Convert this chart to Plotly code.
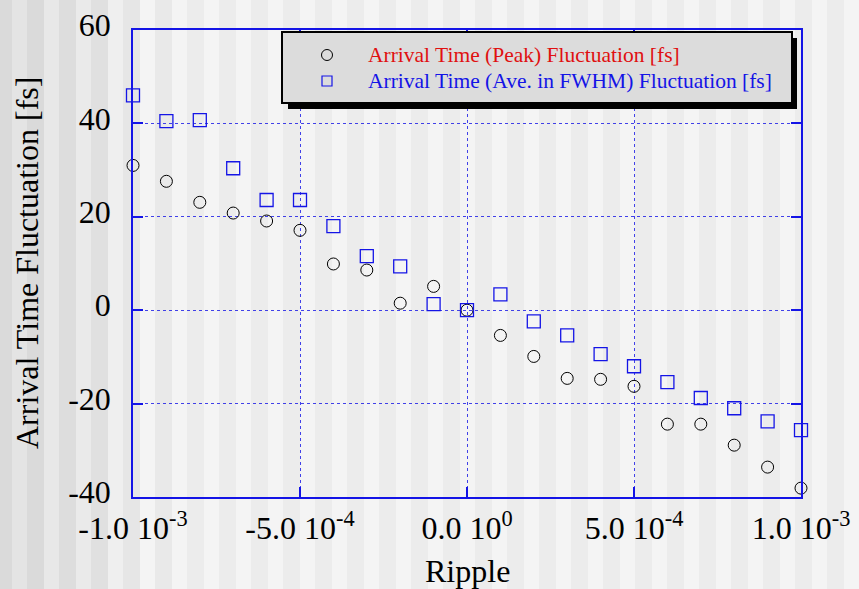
import plotly.graph_objects as go

# ---- data ----
ripple = [-1.0e-3, -9e-4, -8e-4, -7e-4, -6e-4, -5e-4, -4e-4, -3e-4, -2e-4, -1e-4, 0.0,
          1e-4, 2e-4, 3e-4, 4e-4, 5e-4, 6e-4, 7e-4, 8e-4, 9e-4, 1.0e-3]
peak_fluct = [31.0, 27.6, 23.1, 20.8, 19.1, 17.1, 9.9, 8.6, 1.5, 5.1, 0.0,
              -5.4, -9.9, -14.6, -14.8, -16.3, -24.4, -24.4, -28.9, -33.6, -38.1]
fwhm_fluct = [46.0, 40.5, 40.7, 30.4, 23.6, 23.6, 18.0, 11.6, 9.4, 1.3, 0.0,
              3.4, -2.4, -5.4, -9.4, -12.0, -15.4, -18.8, -21.0, -23.8, -25.7]
x_tickvals = [-1.0e-3, -5.0e-4, 0.0, 5.0e-4, 1.0e-3]
x_ticktext = ["-1.0 10<sup>-3</sup>", "-5.0 10<sup>-4</sup>", "0.0 10<sup>0</sup>",
              "5.0 10<sup>-4</sup>", "1.0 10<sup>-3</sup>"]
y_tickvals = [-40, -20, 0, 20, 40, 60]
y_ticktext = ["-40", "-20", "0", "20", "40", "60"]
name_peak = "Arrival Time (Peak) Fluctuation [fs]"
name_fwhm = "Arrival Time (Ave. in FWHM) Fluctuation [fs]"

# ---- geometry ----
W, H = 859, 589
L, R, T, B = 133, 58, 30, 92
PW, PH = W - L - R, H - T - B
FONT = "Liberation Serif, Times New Roman, serif"
BLUE = "#1414e6"


def px(x):
    return (x - L) / PW


def py(y):
    return (H - B - y) / PH


shapes = []
# striped background
for k in range(-1, 28):
    a0 = 12 + 32 * k
    b0 = a0 + 15
    b1 = a0 + 32
    if k <= 0:
        ca = "#e4e4e4"
    elif k == 1:
        ca = "#e8e8e8"
    elif k == 2:
        ca = "#eaeaea"
    elif k == 3:
        ca = "#efefef"
    else:
        ca = "#f4f4f4"
    if k <= 0:
        cb = "#dadada"
    elif k == 1:
        cb = "#dddddd"
    elif k == 2:
        cb = "#e0e0e0"
    elif k == 3:
        cb = "#e6e6e6"
    elif k == 4:
        cb = "#e9e9e9"
    else:
        cb = "#ececec"
    shapes.append(dict(type="rect", xref="paper", yref="paper", layer="below",
                       x0=px(a0), x1=px(b0), y0=py(H), y1=py(0),
                       fillcolor=ca, line=dict(width=0)))
    shapes.append(dict(type="rect", xref="paper", yref="paper", layer="below",
                       x0=px(b0), x1=px(b1), y0=py(H), y1=py(0),
                       fillcolor=cb, line=dict(width=0)))

# legend box with shadow
shapes.append(dict(type="rect", xref="paper", yref="paper", layer="above",
                   x0=px(288), x1=px(797), y0=py(109), y1=py(38),
                   fillcolor="black", line=dict(width=0)))
shapes.append(dict(type="rect", xref="paper", yref="paper", layer="above",
                   x0=px(282), x1=px(792), y0=py(103), y1=py(32),
                   fillcolor="#dcdcdc", line=dict(color="black", width=2)))
# legend symbols
shapes.append(dict(type="circle", xref="paper", yref="paper", layer="above",
                   x0=px(321.5), x1=px(332.5), y0=py(60.5), y1=py(49.5),
                   fillcolor="rgba(0,0,0,0)", line=dict(color="black", width=1)))
shapes.append(dict(type="rect", xref="paper", yref="paper", layer="above",
                   x0=px(322), x1=px(332), y0=py(86), y1=py(76),
                   fillcolor="rgba(0,0,0,0)", line=dict(color=BLUE, width=1.2)))

annotations = [
    dict(text=name_peak, xref="paper", yref="paper", x=px(366), y=py(55),
         xanchor="left", yanchor="middle", showarrow=False,
         font=dict(family=FONT, size=21.5, color="#e01010")),
    dict(text=name_fwhm, xref="paper", yref="paper", x=px(366), y=py(81),
         xanchor="left", yanchor="middle", showarrow=False,
         font=dict(family=FONT, size=21.5, color=BLUE)),
    dict(text="Ripple", xref="paper", yref="paper", x=px(467), y=py(571),
         xanchor="center", yanchor="middle", showarrow=False,
         font=dict(family=FONT, size=32, color="black")),
    dict(text="Arrival Time Fluctuation [fs]", xref="paper", yref="paper",
         x=px(27), y=py(263), xanchor="center", yanchor="middle", textangle=-90,
         showarrow=False, font=dict(family=FONT, size=32, color="black")),
]

fig = go.Figure()
fig.add_trace(go.Scatter(x=ripple, y=peak_fluct, mode="markers", name=name_peak,
                         cliponaxis=False,
                         marker=dict(symbol="circle-open", size=12, color="black",
                                     line=dict(width=1, color="black"))))
fig.add_trace(go.Scatter(x=ripple, y=fwhm_fluct, mode="markers", name=name_fwhm,
                         cliponaxis=False,
                         marker=dict(symbol="square-open", size=13, color=BLUE,
                                     line=dict(width=1.3, color=BLUE))))

axis_common = dict(showline=True, mirror="ticks", linecolor=BLUE, linewidth=1.5,
                   ticks="inside", ticklen=10, tickcolor=BLUE, tickwidth=1.5,
                   showgrid=True, gridcolor="rgba(20,20,230,0.8)", griddash="dot",
                   gridwidth=1, zeroline=False,
                   tickfont=dict(family=FONT, size=32, color="black"))

fig.update_layout(
    width=W, height=H,
    margin=dict(l=L, r=R, t=T, b=B, autoexpand=False),
    paper_bgcolor="#f3f3f3", plot_bgcolor="rgba(0,0,0,0)",
    showlegend=False,
    shapes=shapes, annotations=annotations,
    xaxis=dict(range=[-1.0e-3, 1.0e-3], tickmode="array", tickvals=x_tickvals,
               ticktext=x_ticktext, ticklabelstandoff=2, **axis_common),
    yaxis=dict(range=[-40, 60], tickmode="array", tickvals=y_tickvals,
               ticktext=y_ticktext, ticklabelstandoff=14, ticklabelshift=-5,
               **axis_common),
)

fig.write_html("out.html")
